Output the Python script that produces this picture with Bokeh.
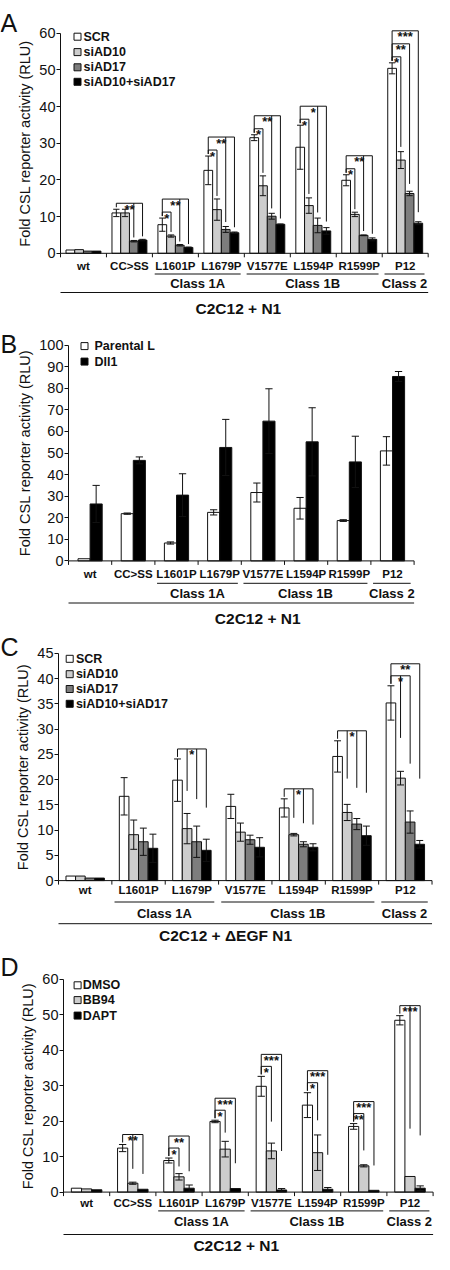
from bokeh.plotting import figure
from bokeh.models import Range1d, FixedTicker
from bokeh.layouts import column
from bokeh.embed import file_html
from bokeh.resources import INLINE
from bokeh.core.properties import value

# ---------------- data ----------------
cats8 = ["wt", "CC>SS", "L1601P", "L1679P", "V1577E", "L1594P", "R1599P", "P12"]
cats7 = ["wt", "L1601P", "L1679P", "V1577E", "L1594P", "R1599P", "P12"]
classes = [("Class 1A", ["L1601P", "L1679P"]),
           ("Class 1B", ["V1577E", "L1594P", "R1599P"]),
           ("Class 2", ["P12"])]

# Panel A
a_yticks = [0, 10, 20, 30, 40, 50, 60]
a_scr = [0.9, 11.0, 7.8, 22.6, 31.5, 28.9, 19.9, 50.4]
a_scr_err = [0, 1.0, 1.8, 3.9, 0.8, 6.0, 1.5, 1.5]
a_siad10 = [1.0, 11.0, 4.7, 11.9, 18.4, 13.0, 10.6, 25.4]
a_siad10_err = [0, 1.0, 0.3, 2.9, 2.7, 2.1, 0.6, 2.3]
a_siad17 = [0.6, 3.3, 2.2, 6.5, 10.1, 7.6, 4.9, 16.3]
a_siad17_err = [0, 0.2, 0.2, 0.8, 0.8, 2.0, 0.1, 0.6]
a_both = [0.6, 3.6, 1.6, 5.6, 7.9, 6.1, 3.8, 8.2]
a_both_err = [0, 0.2, 0.1, 0.2, 0.1, 0.9, 0.4, 0.4]
# significance: (category, from bar, [to bars], label)
a_sig = [(1, 0, [2, 3], "**"),
         (2, 0, [1], "*"), (2, 0, [2, 3], "**"),
         (3, 0, [1], "*"), (3, 0, [2, 3], "**"),
         (4, 0, [1], "*"), (4, 0, [2, 3], "**"),
         (5, 0, [1], "*"), (5, 0, [2, 3], "*"),
         (6, 0, [1], "*"), (6, 0, [2, 3], "**"),
         (7, 0, [1], "*"), (7, 0, [2], "**"), (7, 0, [3], "***")]

# Panel B
b_yticks = [0, 10, 20, 30, 40, 50, 60, 70, 80, 90, 100]
b_parental = [1.0, 21.9, 8.3, 22.5, 31.7, 24.4, 18.7, 51.0]
b_parental_err = [0, 0.3, 0.5, 1.2, 4.4, 5.0, 0.4, 6.6]
b_dll1 = [26.4, 46.6, 30.5, 52.6, 64.8, 55.2, 45.9, 85.5]
b_dll1_err = [8.6, 1.6, 9.9, 13.0, 15.0, 15.8, 11.9, 2.3]

# Panel C
c_yticks = [0, 5, 10, 15, 20, 25, 30, 35, 40, 45]
c_scr = [0.9, 16.7, 19.9, 14.7, 14.4, 24.6, 35.2]
c_scr_err = [0, 3.7, 4.2, 2.4, 1.8, 3.1, 3.4]
c_siad10 = [0.9, 9.1, 10.3, 9.6, 9.1, 13.5, 20.3]
c_siad10_err = [0, 2.9, 3.0, 1.8, 0.25, 1.6, 1.35]
c_siad17 = [0.5, 7.7, 7.7, 8.1, 7.2, 11.2, 11.6]
c_siad17_err = [0, 2.7, 3.1, 0.9, 0.5, 1.1, 2.2]
c_both = [0.5, 6.4, 6.0, 6.6, 6.6, 8.9, 7.2]
c_both_err = [0, 2.8, 2.2, 1.9, 0.7, 1.9, 0.75]
c_sig = [(2, 0, [1, 2, 3], "*"),
         (4, 0, [1, 2, 3], "*"),
         (5, 0, [1, 2, 3], "*"),
         (6, 0, [1, 2], "*"), (6, 0, [3], "**")]

# Panel D
d_yticks = [0, 10, 20, 30, 40, 50, 60]
d_dmso = [1.1, 12.4, 8.9, 19.9, 29.8, 24.5, 18.5, 48.4]
d_dmso_err = [0, 1.0, 0.7, 0.35, 2.8, 3.5, 0.8, 1.3]
d_bb94 = [0.9, 2.5, 4.3, 12.1, 11.6, 11.1, 7.4, 4.4]
d_bb94_err = [0, 0.3, 0.9, 2.2, 2.2, 5.0, 0.3, 0]
d_dapt = [0.65, 0.8, 1.1, 1.0, 0.6, 0.8, 0.5, 1.1]
d_dapt_err = [0, 0, 0.9, 0, 0.4, 0.5, 0, 0.65]
d_sig = [(1, 0, [1, 2], "**"),
         (2, 0, [1], "*"), (2, 0, [2], "**"),
         (3, 0, [1], "*"), (3, 0, [2], "***"),
         (4, 0, [1], "*"), (4, 0, [2], "***"),
         (5, 0, [1], "*"), (5, 0, [2], "***"),
         (6, 0, [1], "**"), (6, 0, [2], "***"),
         (7, 0, [1, 2], "***")]

WHITE, LIGHT, DARK, BLACK = "white", "#cdcdcd", "#7d7d7d", "black"

# ---------------- styling ----------------
W = 434
FONT = "Liberation Sans"
INK = "#111111"


def build(cfg):
    H, left, cw, y0, ppu = cfg["H"], cfg["left"], cfg["cat_w"], cfg["y0"], cfg["ppu"]
    cats, series = cfg["cats"], cfg["series"]
    n = len(cats)

    def uy(px):
        return px / ppu

    def yat(fy):
        return (y0 - fy) / ppu

    def xat(fx):
        return -0.5 + (fx - left) / cw

    p = figure(width=W, height=H, output_backend="svg", toolbar_location=None,
               x_range=Range1d(xat(0), xat(W)), y_range=Range1d(yat(H), yat(0)),
               x_axis_location=None, min_border_left=0, min_border_right=0,
               min_border_top=0, min_border_bottom=0, background_fill_color="white",
               border_fill_color="white")
    p.grid.visible = False
    p.outline_line_color = None

    ax = p.yaxis[0]
    ax.fixed_location = -0.5
    ax.ticker = FixedTicker(ticks=cfg["yticks"])
    ax.bounds = (0, cfg["yticks"][-1])
    ax.axis_line_color = INK
    ax.major_tick_line_color = INK
    ax.major_tick_out = 4
    ax.major_tick_in = 0
    ax.minor_tick_line_color = None
    ax.major_label_standoff = 1
    ax.major_label_text_font = FONT
    ax.major_label_text_font_size = "14.5px"
    ax.major_label_text_color = INK
    ax.axis_label = "Fold CSL reporter activity (RLU)"
    ax.axis_label_text_font = FONT
    ax.axis_label_text_font_size = "14.5px"
    ax.axis_label_text_font_style = "normal"
    ax.axis_label_text_color = INK
    ax.axis_label_standoff = 3

    # bars
    k = len(series)
    bw = cfg["bar_w"]
    xs_by = []
    for i, s in enumerate(series):
        off = (i - (k - 1) / 2) * bw
        xs = [c + off for c in range(n)]
        xs_by.append(xs)
        p.vbar(x=xs, top=s["vals"], bottom=0, width=bw, fill_color=s["color"],
               line_color=INK, line_width=1)
    # error bars
    cap = bw * cfg["cap"]
    for i, s in enumerate(series):
        ex = [x for x, e in zip(xs_by[i], s["errs"]) if e > 0]
        ev = [v for v, e in zip(s["vals"], s["errs"]) if e > 0]
        ee = [e for e in s["errs"] if e > 0]
        lo = [v - e for v, e in zip(ev, ee)]
        hi = [v + e for v, e in zip(ev, ee)]
        p.segment(x0=ex, y0=lo, x1=ex, y1=hi, line_color=INK, line_width=1)
        p.segment(x0=[x - cap for x in ex], y0=hi, x1=[x + cap for x in ex], y1=hi,
                  line_color=INK, line_width=1)
        p.segment(x0=[x - cap for x in ex], y0=lo, x1=[x + cap for x in ex], y1=lo,
                  line_color=INK, line_width=1)

    # significance brackets
    first, step = cfg["lvl"]
    f = cfg["drop_f"]
    sx0, sy0, sx1, sy1 = [], [], [], []
    tx, ty, tt = [], [], []
    counter = {}
    for (ci, frm, tos, lab) in cfg["sig"]:
        kk = counter.get(ci, 0)
        counter[ci] = kk + 1
        tops = [s["vals"][ci] + s["errs"][ci] for s in series]
        base = max(tops[j] for j in [frm] + tos)
        level = base + uy(first + step * kk)
        xf = xs_by[frm][ci]
        xl = xs_by[max(tos)][ci]
        sx0 += [xf, xf]
        sy0 += [level, level]
        sx1 += [xl, xf]
        sy1 += [level, tops[frm] + uy(2)]
        for j in tos:
            end = tops[j] + max(uy(3), f * (level - tops[j]))
            sx0.append(xs_by[j][ci]); sy0.append(level)
            sx1.append(xs_by[j][ci]); sy1.append(end)
        tx.append((xf + xl) / 2); ty.append(level); tt.append(lab)
    if sx0:
        p.segment(x0=sx0, y0=sy0, x1=sx1, y1=sy1, line_color=INK, line_width=1)
        p.text(x=tx, y=ty, text=tt, text_align="center", text_baseline="alphabetic",
               y_offset=6, text_font=value(FONT), text_font_style=value("bold"),
               text_font_size="13px", text_color=INK)

    # x baseline, ticks, long line, class underlines
    b = cfg["below"]
    lx0 = [-0.5] + [c - 0.5 for c in range(n + 1)] + [-0.5]
    ly0 = [0] + [0] * (n + 1) + [-uy(b["long"])]
    lx1 = [n - 0.5] + [c - 0.5 for c in range(n + 1)] + [n - 0.5]
    ly1 = [0] + [-uy(4)] * (n + 1) + [-uy(b["long"])]
    cx, cl = [], []
    for name, members in classes:
        if members[0] not in cats:
            continue
        i0 = cats.index(members[0]); i1 = cats.index(members[-1])
        a0, a1 = i0 - 0.45, i1 + 0.42
        lx0.append(a0); lx1.append(a1)
        ly0.append(-uy(b["under"])); ly1.append(-uy(b["under"]))
        cx.append((a0 + a1) / 2); cl.append(name)
    p.segment(x0=lx0, y0=ly0, x1=lx1, y1=ly1, line_color=INK, line_width=1)

    p.text(x=list(range(n)), y=[-uy(b["cat"])] * n, text=cats, text_align="center",
           text_baseline="middle", text_font=value(FONT), text_font_style=value("bold"),
           text_font_size="11.5px", text_color=INK)
    p.text(x=cx, y=[-uy(b["cls"])] * len(cx), text=cl, text_align="center",
           text_baseline="middle", text_font=value(FONT), text_font_style=value("bold"),
           text_font_size="13px", text_color=INK)
    p.text(x=[cfg["title"][1]], y=[-uy(b["title"])], text=[cfg["title"][0]],
           text_align="center", text_baseline="middle", text_font=value(FONT),
           text_font_style=value("bold"), text_font_size="15.5px", text_color=INK)

    # legend
    lg = cfg["legend"]
    rows = lg["rows"]
    p.rect(x=[xat(left + lg["sq"] + 3.5)] * k, y=[yat(r) for r in rows], width=7, height=7,
           width_units="screen", height_units="screen",
           fill_color=[s["color"] for s in series], line_color=INK, line_width=1)
    p.text(x=[xat(left + lg["tx"])] * k, y=[yat(r) for r in rows],
           text=[s["name"] for s in series], text_align="left", text_baseline="middle",
           text_font=value(FONT), text_font_style=value("bold"), text_font_size="12.5px",
           text_color=INK)

    # panel letter
    letter, lb = cfg["letter"]
    p.text(x=[xat(0)], y=[yat(lb)], text=[letter], text_font=value(FONT),
           text_font_size="25px", text_baseline="alphabetic", text_align="left",
           text_color=INK)
    return p


pa = build(dict(
    H=318, left=60, cat_w=45.96, y0=252.8, ppu=3.67, yticks=a_yticks, cats=cats8,
    bar_w=0.19, cap=0.36,
    series=[dict(name="SCR", vals=a_scr, errs=a_scr_err, color=WHITE),
            dict(name="siAD10", vals=a_siad10, errs=a_siad10_err, color=LIGHT),
            dict(name="siAD17", vals=a_siad17, errs=a_siad17_err, color=DARK),
            dict(name="siAD10+siAD17", vals=a_both, errs=a_both_err, color=BLACK)],
    sig=a_sig, lvl=(6, 13), drop_f=0.05,
    legend=dict(sq=13.5, tx=23, rows=[36.2, 51.6, 66.8, 81.3]),
    letter=("A", 22.7),
    below=dict(cat=12.8, under=20.7, cls=30.3, long=39.2, title=55.3),
    title=("C2C12 + N1", 3.37)))

pb = build(dict(
    H=309, left=68, cat_w=43.2, y0=242.4, ppu=2.157, yticks=b_yticks, cats=cats8,
    bar_w=0.28, cap=0.3,
    series=[dict(name="Parental L", vals=b_parental, errs=b_parental_err, color=WHITE),
            dict(name="Dll1", vals=b_dll1, errs=b_dll1_err, color=BLACK)],
    sig=[], lvl=(6, 13), drop_f=0.0,
    legend=dict(sq=12.5, tx=26, rows=[27.6, 43.1]),
    letter=("B", 25.7),
    below=dict(cat=13.5, under=22.4, cls=33.0, long=42.1, title=57.5),
    title=("C2C12 + N1", 3.88)))

pc = build(dict(
    H=318, left=58, cat_w=53.36, y0=253.1, ppu=5.047, yticks=c_yticks, cats=cats7,
    bar_w=0.18, cap=0.36,
    series=[dict(name="SCR", vals=c_scr, errs=c_scr_err, color=WHITE),
            dict(name="siAD10", vals=c_siad10, errs=c_siad10_err, color=LIGHT),
            dict(name="siAD17", vals=c_siad17, errs=c_siad17_err, color=DARK),
            dict(name="siAD10+siAD17", vals=c_both, errs=c_both_err, color=BLACK)],
    sig=c_sig, lvl=(10, 12), drop_f=0.35,
    legend=dict(sq=7.7, tx=17.4, rows=[31.3, 46.7, 61.5, 76.3]),
    letter=("C", 19.5),
    below=dict(cat=8.9, under=21.4, cls=32.6, long=43.1, title=55.3),
    title=("C2C12 + \u0394EGF N1", 2.63)))

pd_ = build(dict(
    H=309, left=63, cat_w=46.2, y0=246.6, ppu=3.55, yticks=d_yticks, cats=cats8,
    bar_w=0.22, cap=0.36,
    series=[dict(name="DMSO", vals=d_dmso, errs=d_dmso_err, color=WHITE),
            dict(name="BB94", vals=d_bb94, errs=d_bb94_err, color=LIGHT),
            dict(name="DAPT", vals=d_dapt, errs=d_dapt_err, color=BLACK)],
    sig=d_sig, lvl=(10, 12), drop_f=0.28,
    legend=dict(sq=10.6, tx=19.3, rows=[39.8, 54.6, 70.1]),
    letter=("D", 21.7),
    below=dict(cat=10.5, under=18.8, cls=29.6, long=42.4, title=53.0),
    title=("C2C12 + N1", 3.24)))

layout = column(pa, pb, pc, pd_, spacing=0)
open("out.html", "w").write(file_html(layout, INLINE))
